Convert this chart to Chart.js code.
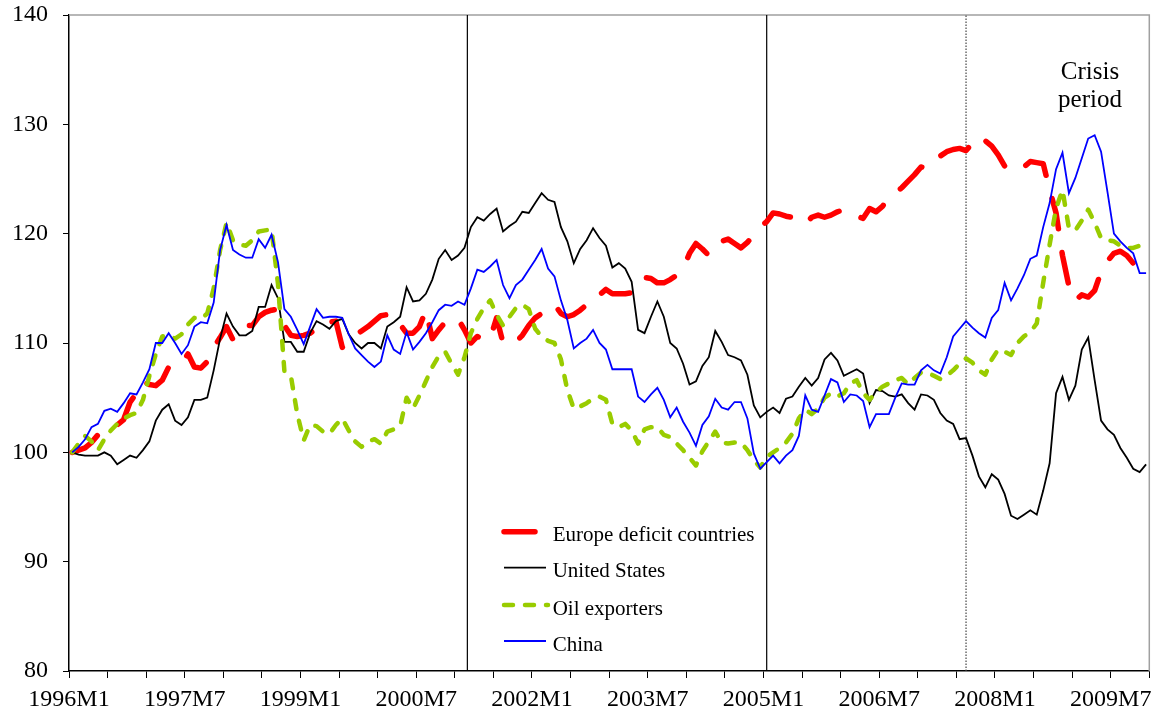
<!DOCTYPE html>
<html>
<head>
<meta charset="utf-8">
<script src="https://cdn.jsdelivr.net/npm/chart.js@4.4.1/dist/chart.umd.min.js"></script>
<style>
html,body{margin:0;padding:0;background:#ffffff;}
#wrap{width:1164px;height:725px;position:relative;}
</style>
</head>
<body>
<div id="wrap"><canvas id="c" width="1164" height="725"></canvas></div>
<script>
// ---------- DATA ----------
const firstYear = 1996;
const monthCount = 168; // 1996M1 .. 2009M12
const months = Array.from({length: monthCount}, (_, i) => (firstYear + Math.floor(i / 12)) + 'M' + (i % 12 + 1));
const tickLabels = ['1996M1','1997M7','1999M1','2000M7','2002M1','2003M7','2005M1','2006M7','2008M1','2009M7'];
const seriesNames = ['Europe deficit countries','United States','Oil exporters','China'];

const europeDeficit = [
100.0,100.2,100.4,100.9,101.6,102.0,102.2,102.5,103.0,104.6,105.4,106.5,106.2,106.1,106.6,107.8,108.0,108.1,109.0,107.8,
107.7,108.3,109.6,110.5,111.5,110.3,111.0,111.6,111.6,112.4,112.8,113.0,113.1,111.6,110.7,110.6,110.7,110.9,111.3,111.9,
111.9,112.0,109.6,110.3,110.7,111.1,111.5,112.0,112.5,112.6,112.6,111.7,110.9,110.9,111.5,113.0,110.4,111.2,111.9,112.2,
112.2,111.2,110.0,110.6,110.3,110.4,112.3,110.0,110.0,110.1,110.7,111.6,112.3,112.7,113.0,113.5,112.7,112.4,112.6,113.0,
113.5,114.3,114.4,114.9,114.5,114.5,114.5,114.6,115.5,116.0,115.9,115.5,115.5,115.8,116.2,116.8,118.2,119.1,118.6,118.0,
118.7,119.3,119.5,119.1,118.7,119.2,119.9,120.6,121.1,121.9,121.8,121.6,121.5,121.2,120.9,121.5,121.7,121.5,121.7,122.0,
122.2,121.9,121.6,121.4,122.3,122.0,122.5,123.3,123.7,124.2,124.8,125.4,126.1,126.0,126.6,127.1,127.5,127.7,127.8,127.6,
128.3,128.9,128.5,128.0,127.2,126.2,125.8,125.8,126.1,126.6,126.5,126.4,124.0,121.9,118.0,115.2,113.9,114.4,114.2,114.8,
116.5,117.5,118.2,118.4,118.0,117.3,117.4,117.1];

const unitedStates = [
100.0,99.8,99.7,99.7,99.7,100.0,99.7,98.9,99.3,99.7,99.5,100.2,101.0,102.9,103.9,104.4,102.9,102.5,103.2,104.8,
104.8,105.0,107.5,110.4,112.7,111.5,110.7,110.7,111.1,113.3,113.3,115.3,114.1,110.1,110.1,109.2,109.2,110.9,112.0,111.7,
111.3,112.0,112.2,110.8,110.0,109.5,110.0,110.0,109.5,111.5,111.9,112.4,115.1,113.8,113.9,114.5,115.8,117.7,118.5,117.6,
118.0,118.7,120.6,121.5,121.2,121.8,122.3,120.2,120.7,121.1,122.0,121.9,122.8,123.7,123.1,122.9,120.6,119.3,117.3,118.6,
119.4,120.5,119.6,118.9,116.9,117.3,116.8,115.6,111.2,110.9,112.4,113.8,112.4,110.0,109.5,108.1,106.2,106.5,107.9,108.7,
111.1,110.1,108.9,108.7,108.4,107.1,104.3,103.2,103.7,104.1,103.6,104.9,105.1,106.0,106.8,106.1,106.8,108.5,109.1,108.4,
107.0,107.3,107.6,107.2,104.5,105.7,105.6,105.2,105.1,105.3,104.5,103.9,105.3,105.2,104.8,103.6,102.9,102.6,101.2,101.3,
99.7,97.8,96.8,98.0,97.5,96.2,94.2,93.9,94.3,94.7,94.3,96.5,99.0,105.4,106.9,104.8,106.1,109.4,110.5,106.6,
102.9,102.1,101.6,100.4,99.5,98.5,98.2,98.9];

const oilExporters = [
100.0,100.8,101.5,101.0,100.2,101.2,102.0,102.6,103.1,103.4,103.6,104.8,107.0,109.0,110.6,110.7,110.4,110.8,111.7,112.3,
112.2,112.7,115.0,118.5,121.0,119.4,119.0,118.9,119.4,120.2,120.3,120.4,115.4,107.4,107.0,103.5,101.1,102.5,102.4,101.9,
101.7,102.5,103.1,102.0,101.0,100.5,101.0,101.2,100.8,101.9,102.1,102.4,105.0,104.0,105.2,106.5,107.8,108.8,109.2,108.1,
107.1,108.7,110.9,112.2,113.2,113.9,112.6,111.6,112.4,113.2,113.5,113.1,111.3,110.6,110.2,110.0,108.5,105.7,104.0,104.2,
104.5,104.9,105.1,104.8,102.6,102.3,102.6,102.0,100.8,102.1,102.3,102.3,101.6,101.4,100.8,100.2,99.5,98.8,100.1,101.0,
101.9,100.9,100.8,100.9,100.9,100.2,99.3,98.6,99.6,100.0,100.4,100.9,101.7,103.1,103.9,103.5,104.0,105.0,105.4,105.1,
105.4,106.3,106.6,105.4,104.8,105.5,106.0,106.3,106.6,106.8,106.2,106.8,107.3,107.3,107.0,106.7,107.0,107.5,108.1,108.6,
108.2,107.5,107.1,108.5,109.4,109.2,108.9,110.0,110.6,111.0,111.8,115.5,119.0,122.3,124.0,120.5,120.3,121.2,122.2,121.0,
119.6,119.4,119.3,118.9,118.7,118.7,118.9,119.3];

const china = [
100.0,100.5,101.2,102.3,102.6,103.8,104.0,103.7,104.5,105.4,105.3,106.4,107.6,110.0,110.0,110.9,110.0,109.0,109.8,111.5,
111.9,111.8,113.7,118.5,120.8,118.5,118.1,117.8,117.8,119.5,118.7,119.9,117.4,113.1,112.4,111.2,109.9,111.5,113.1,112.3,
112.4,112.4,112.3,110.8,109.5,108.9,108.3,107.8,108.3,110.7,109.4,109.0,111.0,109.4,110.1,110.9,111.9,113.0,113.5,113.4,
113.8,113.5,115.0,116.7,116.5,117.0,117.6,115.3,114.1,115.3,115.8,116.7,117.6,118.6,116.8,116.1,113.9,112.1,109.5,110.0,
110.4,111.2,110.0,109.4,107.6,107.6,107.6,107.6,105.1,104.6,105.3,105.9,104.8,103.2,104.1,102.8,101.8,100.6,102.5,103.3,
104.9,104.1,103.9,104.6,104.6,103.1,99.9,98.5,99.1,99.7,99.0,99.7,100.2,101.5,105.2,103.9,103.7,105.2,106.7,106.4,
104.6,105.3,105.2,104.7,102.3,103.5,103.5,103.5,105.0,106.3,106.2,106.2,107.5,108.0,107.5,107.2,108.7,110.6,111.3,112.0,
111.4,110.9,110.5,112.3,113.0,115.5,113.9,115.0,116.2,117.7,118.0,120.6,122.8,125.9,127.4,123.7,125.1,126.9,128.7,129.0,
127.5,123.8,120.0,119.3,118.7,118.2,116.4,116.4];

const markerMonths = [61.45, 108];   // solid vertical separators
const crisisStartMonth = 139;        // dotted line, 2007M8
const yMin = 80, yMax = 140, yStep = 10;
const annotationLines = ['Crisis', 'period'];

// ---------- CHART ----------
const serif = '"Liberation Serif", "Times New Roman", serif';
const toPoints = arr => arr.map((v, i) => ({x: i, y: v}));
const vline = m => [{x: m, y: yMin}, {x: m, y: yMax}];

const datasets = [
  {label: seriesNames[0], data: toPoints(europeDeficit), borderColor: '#ff0000', borderWidth: 5.5,
   borderDash: [31, 24], borderCapStyle: 'round', borderJoinStyle: 'round', order: 4},
  {label: seriesNames[1], data: toPoints(unitedStates), borderColor: '#000000', borderWidth: 1.8, order: 3},
  {label: seriesNames[2], data: toPoints(oilExporters), borderColor: '#99cc00', borderWidth: 4.5,
   borderDash: [9, 12], borderCapStyle: 'round', borderJoinStyle: 'round', order: 2},
  {label: seriesNames[3], data: toPoints(china), borderColor: '#0000ff', borderWidth: 1.8, order: 1},
];
markerMonths.forEach(m => datasets.push({label: '_sep', data: vline(m), borderColor: '#000000', borderWidth: 1.2, order: 10}));
datasets.push({label: '_crisis', data: vline(crisisStartMonth), borderColor: '#444444', borderWidth: 1.2, borderDash: [1.5, 1.5], order: 10});
datasets.forEach(d => { d.pointRadius = 0; d.pointHoverRadius = 0; d.fill = false; d.tension = 0; });

const framePlugin = {
  id: 'frame',
  beforeDatasetsDraw(chart) {
    const {ctx, chartArea: a} = chart;
    ctx.save();
    ctx.strokeStyle = '#a0a0a0';
    ctx.lineWidth = 1.5;
    ctx.beginPath();
    ctx.moveTo(a.left, a.top);
    ctx.lineTo(a.right, a.top);
    ctx.lineTo(a.right, a.bottom);
    ctx.stroke();
    ctx.restore();
  }
};

const legendPlugin = {
  id: 'customLegend',
  afterDraw(chart) {
    const ctx = chart.ctx;
    const x0 = 504, ys = [531.7, 567.7, 605, 641];
    const ends = [540, 546, 548, 546];
    ctx.save();
    for (let i = 0; i < 4; i++) {
      const d = chart.data.datasets[i];
      ctx.beginPath();
      ctx.strokeStyle = d.borderColor;
      ctx.lineWidth = d.borderWidth;
      ctx.lineCap = d.borderCapStyle || 'butt';
      ctx.setLineDash(d.borderDash || []);
      ctx.moveTo(x0, ys[i]);
      ctx.lineTo(ends[i], ys[i]);
      ctx.stroke();
      ctx.setLineDash([]);
      ctx.fillStyle = '#000';
      ctx.font = '21px ' + serif;
      ctx.textAlign = 'left';
      ctx.textBaseline = 'alphabetic';
      ctx.fillText(d.label, 552.7, ys[i] + 9.5);
    }
    ctx.font = '25px ' + serif;
    ctx.textAlign = 'center';
    ctx.fillText(annotationLines[0], 1090, 78.5);
    ctx.fillText(annotationLines[1], 1090, 106.5);
    ctx.restore();
  }
};

new Chart(document.getElementById('c'), {
  type: 'line',
  data: {datasets},
  options: {
    responsive: false,
    devicePixelRatio: 1,
    animation: false,
    events: [],
    layout: {padding: {left: 0, right: 14.7, top: 15, bottom: 0}},
    plugins: {legend: {display: false}, tooltip: {enabled: false}},
    scales: {
      x: {
        type: 'linear',
        min: -0.5,
        max: monthCount - 0.5,
        afterBuildTicks(axis) {
          const t = [];
          for (let v = -0.5; v <= monthCount - 0.5 + 1e-6; v += 6) t.push({value: v});
          axis.ticks = t;
        },
        afterFit(s) { s.height = 54; s.paddingLeft = 0; s.paddingRight = 0; },
        ticks: {
          autoSkip: false, maxRotation: 0, minRotation: 0, padding: 7,
          color: '#000', font: {family: serif, size: 24},
          callback(value) {
            const m = Math.round(value + 0.5);
            return (m % 18 === 0 && m / 18 < tickLabels.length) ? tickLabels[m / 18] : '';
          }
        },
        grid: {display: true, drawOnChartArea: false, drawTicks: true, tickLength: 7, color: '#000', lineWidth: 1},
        border: {display: true, color: '#000', width: 1.5}
      },
      y: {
        min: yMin, max: yMax,
        afterFit(s) { s.width = 69; s.paddingTop = 0; s.paddingBottom = 0; },
        ticks: {stepSize: yStep, padding: 15, color: '#000', font: {family: serif, size: 24}},
        grid: {display: true, drawOnChartArea: false, drawTicks: true, tickLength: 6, color: '#000', lineWidth: 1},
        border: {display: true, color: '#000', width: 1.5}
      }
    }
  },
  plugins: [framePlugin, legendPlugin]
});
</script>
</body>
</html>
